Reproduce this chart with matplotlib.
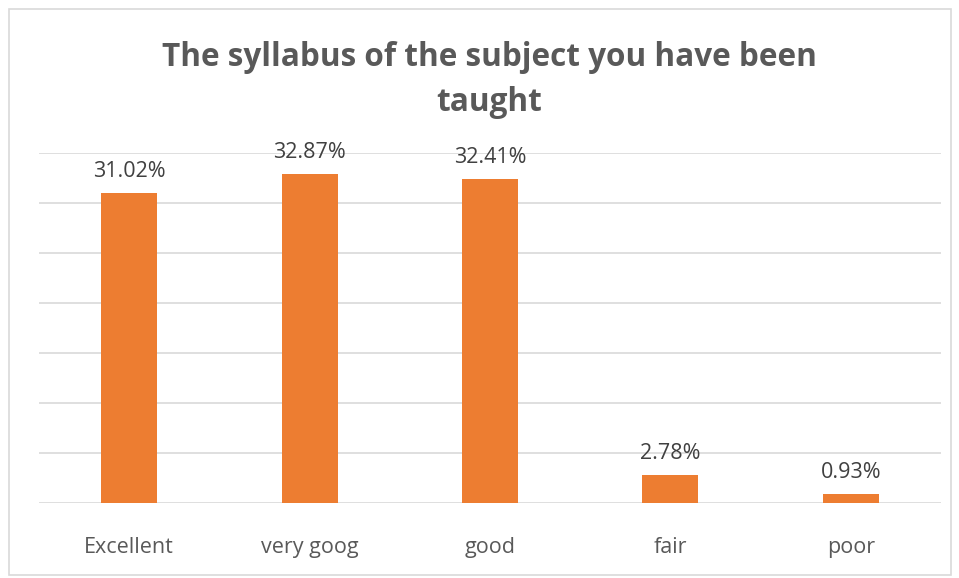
import matplotlib.pyplot as plt
from matplotlib.patches import Rectangle

# ratings and share of responses (%)
categories = ['Excellent', 'very goog', 'good', 'fair', 'poor']
percentages = [31.02, 32.87, 32.41, 2.78, 0.93]

bar_color = '#ED7D31'
grid_color = '#D9D9D9'
text_gray = '#595959'

fig = plt.figure(figsize=(9.59, 5.78), dpi=100)
ax = fig.add_axes([0.0407, 0.1298, 0.9406, 0.6055])

x = range(len(categories))
bars = ax.bar(x, percentages, width=0.31, color=bar_color, zorder=3)

for b, v in zip(bars, percentages):
    ax.annotate(f'{v:.2f}%', (b.get_x() + b.get_width() / 2, v),
                xytext=(0, 8), textcoords='offset points', ha='center', va='bottom',
                fontsize=15.5, color='#404040', annotation_clip=False, zorder=4,
                family='Open Sans')

ax.set_xlim(-0.5, len(categories) - 0.5)
ax.set_ylim(0, 35)
ax.set_yticks(range(0, 36, 5))
ax.yaxis.grid(True, color=grid_color, linewidth=1.2, zorder=0)
ax.tick_params(axis='y', left=False, labelleft=False)
ax.tick_params(axis='x', bottom=False, pad=21, labelsize=15.5, labelcolor=text_gray)
ax.set_xticks(list(x))
ax.set_xticklabels(categories, family='Open Sans')
for s in ax.spines.values():
    s.set_visible(False)

fig.text(0.51, 0.900, 'The syllabus of the subject you have been', ha='center', va='center',
         fontsize=22.7, fontweight='bold', color=text_gray, family='Open Sans')
fig.text(0.51, 0.822, 'taught', ha='center', va='center',
         fontsize=22.7, fontweight='bold', color=text_gray, family='Open Sans')

# outer chart border
fig.patches.append(Rectangle((0.0094, 0.005), 0.982, 0.98, transform=fig.transFigure,
                             fill=False, edgecolor=grid_color, linewidth=1.2))

fig.savefig('out.png', dpi=100)
